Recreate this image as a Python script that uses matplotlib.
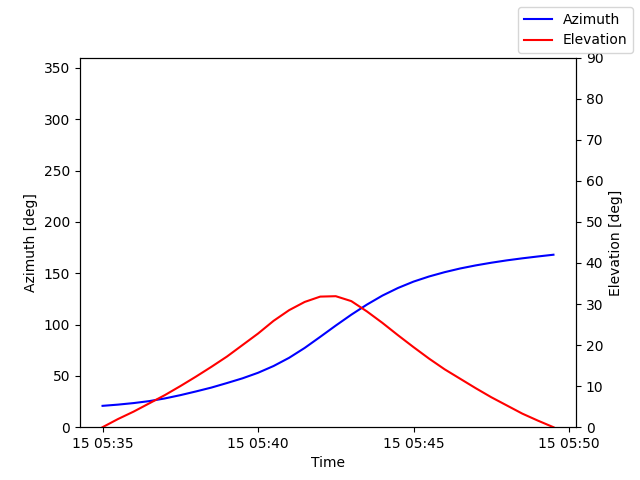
import matplotlib
matplotlib.use('Agg')
import matplotlib.pyplot as plt
import matplotlib.dates as mdates
import numpy as np
import pandas as pd

# pass samples every 30 s
start = '2021-03-15 05:35:00'
n_steps = 30
azimuth = [20.8, 22.0, 23.5, 25.4, 28.0, 31.2, 34.8, 38.6, 43.0, 47.6,
           53.0, 59.6, 67.6, 77.2, 88.0, 99.0, 109.6, 119.4, 128.2, 135.6,
           141.8, 146.8, 151.0, 154.6, 157.6, 160.2, 162.5, 164.5, 166.3, 168.0]
elevation = [0.0, 2.0, 3.8, 5.8, 7.8, 10.0, 12.3, 14.7, 17.2, 20.0,
             22.8, 25.9, 28.5, 30.5, 31.8, 31.9, 30.7, 28.2, 25.4, 22.4,
             19.5, 16.7, 14.1, 11.8, 9.5, 7.3, 5.3, 3.3, 1.6, 0.0]

times = pd.date_range(start, periods=n_steps, freq='30s')

fig, ax = plt.subplots(figsize=(6.4, 4.8), dpi=100)
ax.plot(times, azimuth, color='b', label='Azimuth')
ax.set_ylim(0, 360)
ax.set_xlabel('Time')
ax.set_ylabel('Azimuth [deg]')

ax2 = ax.twinx()
ax2.plot(times, elevation, color='r', label='Elevation')
ax2.set_ylim(0, 90)
ax2.set_ylabel('Elevation [deg]')

ax.xaxis.set_major_locator(mdates.MinuteLocator(byminute=range(0, 60, 5)))
ax.xaxis.set_major_formatter(mdates.DateFormatter('%d %H:%M'))

fig.legend()
fig.savefig('out.png')
